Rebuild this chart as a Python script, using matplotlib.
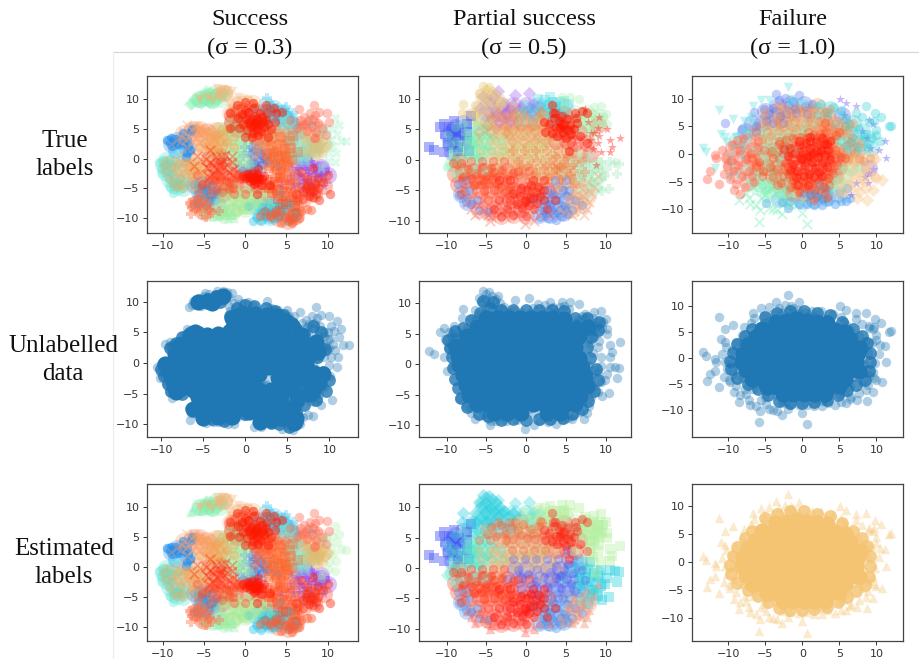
import matplotlib
matplotlib.use("Agg")
import matplotlib.pyplot as plt
from matplotlib.lines import Line2D

# --- sigma 0.3 points, grouped by blob
S_TOP_GREEN = [(-6.7,9.2),(-6.2,10.1),(-5.8,9.6),(-5.5,10.6),(-5.1,9.9),(-4.9,10.9),(-4.6,10.2),(-4.3,11.2),(-4.1,10.4),(-3.9,9.7),(-5.3,9.3),(-3.6,10.9),(-4.4,9.5),(-6.4,9.4),(-3.3,10.3),(-4.8,11.4)]
S_TOP_SAND = [(-3.4,11.8),(-3.0,11.3),(-2.7,11.7),(-2.4,11.2),(-2.9,10.7),(-2.2,11.6),(-1.6,11.4),(-2.5,10.3),(-3.2,11.0),(-2.0,10.8),(-1.4,9.8),(-0.9,10.4),(-1.1,8.9),(-2.0,9.3),(-0.4,9.8),(0.3,9.9),(0.9,9.3),(-1.8,8.5),(-0.3,8.9)]
S_RED_TOP = [(-0.9,6.8),(-0.4,7.5),(-0.2,5.9),(0.1,6.7),(0.2,4.9),(0.4,7.9),(0.5,6.0),(0.7,5.3),(0.9,6.7),(1.0,4.3),(1.1,5.8),(1.2,7.2),(1.3,6.2),(1.4,5.0),(1.5,6.6),(1.7,5.6),(1.8,7.7),(1.9,4.6),(2.0,6.1),(2.1,7.0),(2.3,5.3),(2.5,6.5),(0.8,3.7),(2.7,7.6),(1.6,3.9),(-0.7,5.1),(0.0,8.2),(1.1,8.5),(2.8,5.8),(0.6,6.4),(1.0,5.5),(1.5,5.9)]
S_CORAL_RIGHT = [(6.5,8.4),(6.7,6.5),(6.9,5.6),(7.2,7.0),(7.5,4.7),(7.6,6.3),(7.9,7.6),(8.1,5.5),(8.3,6.6),(8.4,9.1),(8.6,4.5),(8.9,6.0),(9.0,7.9),(9.3,5.1),(9.9,7.7),(6.3,5.2),(7.3,5.9),(8.5,7.3),(10.2,6.1),(9.8,3.9)]
S_BLUE_LEFT = [(-9.5,3.1),(-9.1,2.6),(-9.0,3.4),(-8.8,2.9),(-8.5,3.3),(-8.3,2.4),(-8.9,2.2),(-8.0,3.0),(-7.4,2.6),(-6.9,2.2),(-7.1,0.9),(-6.7,1.4)]
S_SALMON = [(-7.4,4.4),(-7.0,5.6),(-6.8,3.7),(-6.5,4.9),(-6.2,5.3),(-6.0,3.4),(-5.8,4.4),(-5.5,5.2),(-5.2,3.9),(-4.9,4.7),(-7.2,3.1),(-6.4,2.9),(-5.6,2.7),(-7.6,3.6)]
S_SAND_UP = [(-4.6,2.1),(-4.3,3.5),(-4.0,1.2),(-3.8,2.6),(-3.5,3.9),(-3.3,1.8),(-3.0,3.0),(-2.7,2.2),(-2.5,3.6),(-4.1,3.0),(-3.6,1.5),(-5.0,2.6),(-2.9,1.2),(-3.2,4.3),(-2.2,2.8),(-4.4,1.6),(-3.7,3.3)]
S_GREEN_MID = [(-2.1,4.3),(-1.8,1.8),(-1.5,3.2),(-1.2,2.4),(-0.9,4.6),(-0.6,3.0),(-0.3,1.4),(0.1,2.5),(0.4,3.7),(-1.4,1.0),(-0.2,0.4),(-0.8,-0.4),(-0.4,-1.1),(-1.0,0.2),(0.5,-0.5),(-2.3,0.6),(-0.1,4.4)]
S_CYAN_LEFT = [(-10.5,-0.6),(-10.2,-1.5),(-10.0,-0.2),(-10.1,-2.4),(-9.7,-0.9),(-9.5,-2.0),(-9.2,-0.3),(-9.4,-3.2),(-9.0,-1.3),(-8.8,-4.1),(-8.7,-5.8),(-9.1,-4.8),(-8.5,-4.6),(-8.1,-4.2),(-7.6,-4.5),(-7.9,-3.4),(-8.9,-2.6),(-8.3,-0.6)]
S_SAND_LEFT = [(-8.6,-1.4),(-8.2,-2.2),(-8.0,-0.7),(-7.8,-3.0),(-7.5,-1.5),(-7.3,-2.5),(-7.0,-0.4),(-6.8,-1.9),(-6.6,-3.3),(-6.4,-0.9),(-6.1,-2.1),(-5.9,-1.2),(-5.6,-0.4),(-5.4,-2.6),(-5.0,-1.6),(-4.8,-2.4),(-6.9,-1.1),(-6.3,-1.6),(-5.7,-1.9),(-7.4,-0.8),(-6.6,-2.5),(-5.2,-0.8)]
S_RED_X = [(-4.7,0.0),(-4.5,-1.6),(-4.2,-0.5),(-4.0,-2.6),(-3.8,-1.2),(-3.5,0.3),(-3.3,-1.9),(-3.1,-0.6),(-2.9,-2.7),(-2.7,-0.2),(-2.6,-1.4),(-2.4,0.6),(-2.2,-1.0),(-2.0,-2.2),(-1.6,-0.6),(-1.4,-1.8),(-2.9,0.5),(-3.0,-1.1),(-2.8,-0.6)]
S_RED_LOW = [(-4.4,-3.3),(-4.1,-4.6),(-3.8,-3.6),(-3.5,-5.2),(-3.2,-4.0),(-2.9,-3.1),(-2.6,-4.6),(-2.3,-3.7),(-2.0,-5.1),(-1.7,-3.0),(-1.4,-4.2),(-1.1,-3.3),(-0.8,-2.8),(-0.5,-3.2),(-1.5,-5.0),(-3.6,-2.7),(-2.8,-5.6),(-1.9,-3.9)]
S_RED_CORE = [(-0.3,-2.9),(0.1,-3.3),(0.4,-2.6),(0.6,-3.7),(0.9,-3.1),(1.1,-4.2),(1.2,-3.3),(1.4,-2.5),(1.5,-3.9),(1.7,-3.2),(1.9,-4.5),(2.1,-3.5),(2.3,-2.9),(0.9,-2.4),(1.0,-3.6),(1.6,-3.5),(0.5,-3.1),(1.3,-3.0)]
S_LIME_LOW = [(-3.1,-6.6),(-2.6,-7.8),(-2.2,-6.2),(-1.9,-8.4),(-1.5,-7.0),(-1.1,-6.0),(-0.8,-7.7),(-0.4,-5.6),(0.0,-6.8),(0.4,-7.8),(0.7,-5.4),(1.1,-6.4),(1.5,-7.2),(1.9,-5.8),(-2.3,-5.4),(-0.2,-8.6),(-1.0,-8.9),(0.6,-6.6),(-0.6,-6.4),(2.4,-6.6)]
S_BLUE_LOW = [(-5.6,-5.9),(-5.0,-6.5),(-4.7,-5.3),(-4.4,-6.2),(-3.9,-5.9),(-5.2,-5.0),(-3.7,-6.9),(-4.2,-7.2),(-3.3,-5.6)]
S_ORANGE_PLUS = [(-6.7,-7.4),(-6.5,-8.2),(-6.6,-9.3),(-6.1,-7.3),(-5.9,-8.4),(-5.6,-7.6),(-5.4,-8.8),(-5.1,-7.1),(-4.8,-8.0),(-4.5,-7.4),(-4.3,-8.6),(-4.7,-9.8),(-5.8,-7.0)]
S_GREEN_TRI = [(-3.9,-9.6),(-3.6,-8.9),(-3.3,-9.7),(-3.0,-9.0),(-2.7,-9.5),(-2.4,-8.8),(-2.1,-9.9),(-1.7,-9.4),(-1.4,-10.0),(-3.2,-8.3),(-2.5,-9.0)]
S_ORANGE_SQ = [(2.7,0.8),(3.0,-0.7),(3.2,2.1),(3.4,0.2),(3.7,-1.3),(3.9,1.3),(4.1,-0.2),(4.3,2.5),(4.5,0.6),(4.7,-1.1),(4.9,1.7),(5.1,-0.5),(5.3,0.9),(5.5,2.9),(5.7,-0.2),(3.5,1.0),(4.4,-0.9),(5.0,0.3),(2.9,-1.6),(5.3,-1.4),(4.0,0.5),(4.8,0.1)]
S_ORANGE_UP = [(1.2,2.9),(1.6,1.3),(2.0,3.6),(2.3,2.1),(2.6,4.5),(2.9,3.1),(3.2,4.1),(3.5,3.6),(3.9,4.6),(4.4,3.4),(1.8,2.6),(2.8,5.0),(2.4,3.0),(4.9,4.4),(3.1,2.7)]
S_BLUE_MID = [(0.6,0.9),(0.9,-0.7),(1.2,0.3),(1.4,-1.6),(1.7,-0.4),(1.9,0.8),(2.2,-0.9),(0.4,-1.9),(1.1,-1.1),(2.4,0.1),(0.7,1.9),(-0.2,-2.0),(1.5,1.6)]
S_CYAN_TOP = [(2.6,10.2),(2.2,8.3),(2.9,7.7),(3.3,8.9),(3.6,7.0),(3.9,8.6),(4.2,6.2),(4.6,7.3),(5.0,8.7),(5.2,7.6),(5.6,6.7),(3.0,9.0),(4.7,8.2),(5.8,7.6),(3.4,6.5),(2.5,6.5),(6.0,6.0)]
S_LIGHT_RIGHT = [(5.4,5.2),(5.8,4.0),(6.1,3.2),(5.6,2.9),(6.4,2.2),(6.0,1.3),(6.6,0.7),(7.0,1.5),(6.2,0.1),(7.3,0.5),(5.5,1.0),(6.7,3.4),(7.5,2.7)]
S_SAND_RIGHT = [(7.6,1.8),(7.9,3.0),(8.1,1.1),(8.4,2.5),(8.7,3.4),(8.9,1.6),(9.1,2.6),(9.3,0.9),(9.5,3.0),(9.7,1.9),(8.6,0.7),(10.0,2.4),(9.0,2.0),(8.3,1.8),(7.4,3.6)]
S_GREEN_RIGHT = [(9.8,5.0),(10.1,4.0),(10.4,3.1),(10.6,5.2),(10.9,6.9),(11.1,4.2),(11.4,5.6),(11.6,3.0),(12.3,2.9),(10.7,2.1),(10.2,0.9),(11.0,1.0),(10.9,-0.6),(10.0,-0.4),(9.4,4.4)]
S_PURPLE = [(6.3,-1.5),(6.7,-2.8),(7.0,-0.8),(7.2,-3.6),(7.5,-1.9),(7.8,-2.6),(8.1,-1.2),(8.3,-2.0),(8.6,-3.1),(8.9,-1.5),(9.2,-2.4),(9.6,-1.7),(10.1,-2.2),(8.0,-0.4),(6.5,-4.2),(7.1,-5.0),(9.0,-3.0),(8.4,-1.0)]
S_RED_RIGHT = [(7.0,-5.5),(7.4,-4.6),(7.7,-6.2),(8.0,-4.8),(8.3,-5.4),(8.5,-4.2),(8.8,-5.0),(7.9,-5.6),(9.4,-3.9),(8.2,-6.4),(10.3,-6.0),(9.0,-6.9),(7.5,-3.4),(8.6,-5.9)]
S_RED_CENTER = [(2.6,-3.6),(3.0,-4.4),(3.3,-5.8),(3.6,-4.0),(3.9,-5.2),(4.2,-3.3),(4.5,-6.2),(4.8,-4.5),(5.1,-5.6),(5.4,-3.6),(5.7,-6.4),(6.0,-4.8),(6.3,-7.0),(4.0,-6.8),(2.9,-5.0),(5.0,-7.3)]
S_CYAN_LOW = [(1.0,-10.4),(1.5,-9.8),(1.9,-10.5),(2.2,-8.9),(2.5,-9.7),(2.8,-8.1),(3.2,-9.0),(3.5,-7.8),(3.8,-8.5),(4.1,-8.0),(4.4,-9.4),(4.7,-8.5),(2.0,-8.0),(3.0,-7.3),(4.9,-7.6),(3.4,-10.0)]
S_CORAL_LOW = [(4.3,-10.8),(5.0,-9.8),(5.3,-10.4),(5.5,-9.4),(5.7,-10.9),(5.9,-9.9),(6.2,-9.0),(6.5,-10.0),(6.8,-8.8),(7.5,-8.5),(8.0,-8.6),(3.6,-9.1),(4.0,-9.6),(5.5,-10.1),(4.4,-8.8)]

S_GROUPS = {
    "cyan_left": S_CYAN_LEFT, "blue_left": S_BLUE_LEFT, "blue_low": S_BLUE_LOW, "blue_mid": S_BLUE_MID,
    "purple": S_PURPLE, "cyan_top": S_CYAN_TOP, "cyan_low": S_CYAN_LOW, "light_right": S_LIGHT_RIGHT,
    "green_right": S_GREEN_RIGHT, "top_green": S_TOP_GREEN, "green_tri": S_GREEN_TRI, "green_mid": S_GREEN_MID,
    "lime_low": S_LIME_LOW, "sand_right": S_SAND_RIGHT, "top_sand": S_TOP_SAND, "sand_left": S_SAND_LEFT,
    "sand_up": S_SAND_UP, "salmon": S_SALMON, "orange_plus": S_ORANGE_PLUS, "orange_up": S_ORANGE_UP,
    "orange_sq": S_ORANGE_SQ, "coral_right": S_CORAL_RIGHT, "coral_low": S_CORAL_LOW, "red_center": S_RED_CENTER,
    "red_low": S_RED_LOW, "red_x": S_RED_X, "red_right": S_RED_RIGHT, "red_top": S_RED_TOP, "red_core": S_RED_CORE,
}
S_CORE = [(-0.2,8.0),(1.2,8.0),(2.6,7.8),(-0.6,6.5),(0.8,6.4),(2.2,6.4),(3.6,6.2),(-1.0,5.0),(0.4,5.0),(1.8,5.0),(3.2,5.0),(4.6,5.0),(-5.6,3.6),(-7.0,3.2),(-4.2,2.8),(-2.8,3.4),(-1.4,3.6),(0.0,3.6),(1.4,3.6),(2.8,3.6),(4.2,3.6),(5.4,3.2),(-8.4,1.4),(-7.0,1.8),(-5.6,2.0),(-4.2,1.4),(-2.8,2.0),(-1.4,2.0),(0.0,2.0),(1.4,2.0),(2.8,2.0),(4.2,2.0),(5.6,1.8),(-8.6,-0.2),(-7.2,0.2),(-5.8,0.4),(-4.4,0.0),(-3.0,0.4),(-1.6,0.4),(-0.2,0.4),(1.2,0.4),(2.6,0.4),(4.0,0.4),(5.4,0.2),(6.4,-0.6),(-9.0,-1.6),(-7.6,-1.4),(-6.2,-1.2),(-4.8,-1.4),(-3.4,-1.2),(-2.0,-1.2),(-0.6,-1.2),(0.8,-1.2),(4.0,-1.2),(5.4,-1.4),(6.8,-2.2),(-8.6,-3.0),(-7.2,-3.0),(-5.8,-2.8),(-4.4,-3.0),(-3.0,-2.8),(-1.6,-2.8),(-0.2,-2.8),(1.0,-2.8),(4.6,-2.8),(6.0,-3.0),(7.6,-3.6),(8.8,-3.2),(-7.8,-4.2),(-4.0,-4.4),(-2.6,-4.4),(-1.2,-4.4),(0.2,-4.4),(1.6,-4.4),(3.0,-4.4),(4.4,-4.4),(5.8,-4.6),(7.4,-5.0),(-2.8,-6.0),(-1.4,-6.0),(0.0,-6.0),(1.4,-6.0),(2.8,-6.0),(4.2,-5.8),(-3.4,-7.4),(-2.0,-7.2),(-0.6,-7.4),(-4.8,-7.8),(-3.2,-8.8),(3.8,-8.6),(4.4,-9.0),(5.8,-9.8),
          (-6.2,-4.4),(-5.2,-4.2),(6.4,1.2),(7.4,1.0),(8.6,1.8),(7.2,3.0),(8.4,3.4),(6.6,4.6),(5.6,6.0),(4.8,6.8),(9.2,-1.8),(8.2,-1.6),(7.2,-0.2),(1.6,-1.8),(3.9,-2.4),(2.8,-0.6),(-4.2,-6.0),(-5.6,-5.6),(-1.6,-8.8),(0.4,-8.0),(1.8,-7.6),(3.0,-7.6),(4.6,-7.6),(5.6,-7.4),(6.2,-6.0),(8.0,-4.5),(-6.2,-7.6),(-5.0,-9.0),(-3.2,4.8),(-4.6,4.6),(-6.0,5.0),(-7.8,3.0),(-6.6,4.6),(-8.2,-4.8),(-9.6,-0.2),(-1.6,7.4),(-1.8,5.2),(-0.8,7.9),(3.8,7.6),(4.8,6.4),(-4.6,10.2),(-3.4,10.6),(-2.6,11.0),(-5.6,10.0),(-4.0,9.8),(6.0,-9.0),(3.0,-9.4),(1.8,-9.6)]
S_EDGE = [(-5.5,10.0),(-4.5,10.5),(-3.5,11.0),(-2.5,11.0),(-4.0,9.8),(-3.0,10.0),(-1.0,9.0),(0.0,9.5),(1.0,9.3),(2.5,9.0),(3.5,8.5),(-1.8,7.6),(-1.6,6.2),(4.5,7.8),(5.5,6.5),(6.0,5.5),(5.8,3.8),(-9.0,2.5),(-8.2,3.2),(-7.5,4.3),(-6.5,5.0),(-5.5,5.0),(-4.5,4.4),(-3.5,4.8),(-2.2,5.0),(-10.0,-1.0),(-9.7,-2.2),(-9.2,-3.4),(-8.8,-4.5),(-7.5,-5.0),(-6.2,-4.3),(-5.2,-4.5),(-5.4,-6.3),(-5.8,-7.5),(-5.2,-8.8),(-4.0,-9.2),(-2.5,-9.5),(-1.5,-8.8),(0.0,-8.4),(1.2,-8.0),(2.4,-8.8),(3.0,-9.8),(4.0,-10.0),(5.2,-10.4),(6.2,-9.6),(6.0,-8.0),(7.0,-6.8),(8.4,-6.0),(9.6,-4.6),(10.0,-2.8),(9.2,-1.4),(7.5,2.0),(8.5,3.5),(9.0,5.0),(8.0,6.0),(7.0,4.8),(9.5,2.3),(8.5,1.0),(7.4,-0.6)]

# --- sigma 0.5 points
P_TOP_SAND = [(-5.4,12.0),(-5.1,11.6),(-4.7,11.9),(-6.0,10.9),(-5.7,10.2),(-5.0,10.7),(-4.3,11.3),(-3.8,10.8),(-3.3,10.1),(-4.6,9.9),(-5.2,9.2),(-4.0,9.3),(-8.0,9.1),(-8.1,7.6),(-6.4,9.0),(-5.7,8.2),(-4.5,8.0),(-3.5,8.6),(-7.0,7.4),(-6.3,7.5),(-2.8,9.4)]
P_PURPLE_TOP = [(-3.6,11.2),(-1.4,10.6),(0.3,10.9),(-2.9,9.0),(-2.2,8.5),(-1.6,9.0),(-0.7,8.6),(0.5,8.4),(0.9,9.2),(-2.6,7.5),(-3.9,7.9),(-4.8,7.7)]
P_CYAN_TOP = [(1.5,9.9),(2.4,9.8),(3.0,10.2),(3.4,9.4),(1.9,8.6),(2.7,8.9),(3.8,8.6),(4.3,9.4),(4.8,9.6),(1.0,8.0),(2.2,7.7),(3.3,7.7),(4.5,8.0),(5.4,9.1),(0.1,7.8)]
P_BLUE_LEFT = [(-12.2,2.1),(-11.6,1.6),(-10.8,5.3),(-10.3,5.9),(-9.7,5.3),(-9.1,6.3),(-10.2,4.2),(-9.5,4.7),(-8.9,4.3),(-8.5,5.0),(-9.3,3.8),(-8.8,3.2),(-8.3,3.9),(-9.9,2.7),(-9.3,2.4),(-10.4,1.2),(-8.6,2.0),(-7.5,5.9),(-9.4,5.1),(-9.0,4.7),(-8.7,4.1)]
P_GREEN_LEFT = [(-8.3,1.6),(-7.9,2.6),(-7.6,0.9),(-7.3,3.4),(-7.0,2.0),(-6.7,4.2),(-6.4,1.0),(-6.1,2.8),(-5.8,3.7),(-5.5,1.6),(-5.2,4.8),(-7.2,1.2),(-6.6,2.6),(-5.9,0.5),(-6.2,5.6),(-7.7,4.5),(-4.9,2.2),(-9.2,-0.2),(-10.0,-1.2),(-4.6,3.5),(-6.9,3.0)]
P_SAND_MID = [(-4.3,1.5),(-3.9,3.2),(-3.4,0.6),(-3.0,2.4),(-2.6,4.1),(-2.2,1.2),(-1.8,3.0),(-1.3,0.4),(-0.9,2.2),(-0.5,3.9),(-0.1,1.0),(0.4,2.6),(0.8,0.2),(1.2,3.4),(1.6,1.5),(2.0,0.0),(2.4,2.3),(2.8,3.6),(3.2,1.0),(1.0,1.6),(0.0,2.0),(-1.5,1.7),(-2.8,1.4),(1.9,2.8)]
P_ORANGE_TOP = [(-4.4,6.8),(-3.8,5.2),(-3.2,7.0),(-2.7,5.6),(-2.1,6.6),(-1.6,4.8),(-1.0,6.2),(-0.4,7.3),(0.1,5.0),(0.6,6.4),(1.1,4.7),(1.6,6.9),(2.1,5.5),(2.6,4.5),(-0.7,5.4),(0.9,5.7),(-2.5,4.6),(-4.9,5.6),(1.7,7.8),(-1.4,7.6)]
P_RED_TOPRIGHT = [(2.9,5.8),(3.2,4.4),(3.5,6.9),(3.7,5.3),(3.9,3.9),(4.1,6.3),(4.3,5.2),(4.5,7.1),(4.6,4.5),(4.8,5.9),(5.0,3.6),(5.1,6.6),(5.3,4.8),(5.5,5.6),(5.7,4.2),(6.0,5.1),(4.4,5.8),(4.9,5.0),(3.6,7.6),(6.3,6.8),(7.0,8.0),(6.8,3.9)]
P_RIGHT_TOP = [(6.5,7.2),(7.0,6.2),(7.4,7.6),(7.8,6.8),(8.3,5.5),(8.6,8.6),(9.4,8.8),(9.0,7.1),(9.7,7.0),(10.2,5.8),(8.9,6.3),(8.0,4.5),(6.5,5.6),(9.5,5.9),(8.4,7.6),(10.1,7.5),(7.6,5.4),(6.6,9.9),(5.5,10.3),(4.5,10.3)]
P_RED_STARS = [(8.5,4.4),(9.2,3.8),(10.2,5.0),(10.5,3.2),(11.8,3.6),(10.8,2.0),(10.6,1.2),(9.0,2.8),(8.4,1.8),(9.4,1.2),(8.0,3.3),(9.0,5.2),(7.4,8.3)]
P_RIGHT_MID = [(6.8,-0.6),(7.4,-1.6),(7.8,-0.2),(8.2,-2.3),(8.6,-0.9),(9.0,-1.4),(9.4,-3.0),(9.9,-2.6),(10.5,-0.4),(11.2,-0.5),(11.7,-0.7),(11.4,-2.3),(10.4,-4.8),(9.6,-5.2),(9.0,-4.6),(8.4,-3.6),(7.2,-3.0),(6.6,-2.0),(10.2,-1.6),(9.4,-0.3),(8.0,-4.3)]
P_RED_LEFT = [(-7.3,-1.5),(-7.0,-3.0),(-6.6,-4.1),(-6.3,-2.2),(-5.9,-3.3),(-5.6,-1.2),(-5.3,-5.1),(-5.0,-2.6),(-4.7,-3.8),(-4.4,-1.4),(-4.1,-4.9),(-3.8,-2.9),(-3.5,-3.8),(-3.1,-1.7),(-2.8,-5.3),(-2.4,-3.1),(-2.0,-4.4),(-1.6,-2.2),(-4.9,-3.2),(-5.7,-4.0),(-4.0,-2.0),(-8.2,-0.6),(-8.0,-2.8),(-3.2,-4.4)]
P_RED_BOTTOM = [(-1.2,-7.3),(-0.8,-6.0),(-0.5,-7.9),(-0.2,-6.6),(0.1,-5.0),(0.3,-7.4),(0.6,-4.2),(0.8,-6.3),(1.0,-8.0),(1.2,-5.3),(1.5,-4.4),(1.8,-6.0),(0.0,-7.0),(0.5,-6.2),(-1.7,-5.5),(-0.6,-4.6),(2.2,-4.9),(1.3,-7.1),(-2.1,-6.6)]
P_ORANGE_RIGHT = [(2.2,-1.5),(2.6,-3.1),(3.0,-0.6),(3.4,-2.2),(3.8,0.4),(4.1,-1.2),(4.4,-3.3),(4.7,-0.3),(5.0,-1.8),(5.3,0.6),(5.6,-2.7),(5.9,-0.8),(6.2,-3.8),(4.4,-1.4),(3.7,-1.6),(1.2,-2.2),(0.2,-1.0),(-0.7,-1.7),(0.8,-3.3),(-1.0,-0.4)]
P_BLUE_BOTTOM = [(-8.5,-5.8),(-7.6,-6.9),(-7.0,-7.3),(1.8,-9.3),(2.3,-8.2),(2.7,-9.6),(3.0,-7.3),(3.4,-8.7),(3.8,-6.6),(4.2,-8.3),(4.5,-9.2),(4.9,-7.5),(5.3,-8.9),(2.2,-6.6),(3.4,-5.6),(4.6,-5.0),(5.1,-6.0),(3.7,-9.8)]
P_CORAL_BOTTOM = [(-7.0,-8.0),(-6.5,-9.0),(-6.0,-7.4),(-5.4,-8.3),(-4.8,-9.0),(-4.2,-8.0),(-3.8,-9.3),(-3.5,-7.2),(-3.0,-8.5),(-2.6,-9.3),(-4.6,-10.0),(-2.2,-7.7),(-4.4,-9.4),(-1.2,-9.2),(-5.4,-6.6),(-0.1,-10.6),(1.0,-10.0),(-2.6,-6.0)]
P_ORANGE_LOW = [(6.0,-5.0),(6.4,-6.4),(6.8,-7.8),(7.2,-6.0),(7.6,-8.0),(7.9,-6.9),(6.0,-8.4),(5.8,-9.0),(7.3,-9.0),(7.0,-4.8),(5.5,-6.2),(8.1,-5.4)]

P_GROUPS = {
    "blue_left": P_BLUE_LEFT, "blue_bottom": P_BLUE_BOTTOM, "purple_top": P_PURPLE_TOP, "cyan_top": P_CYAN_TOP,
    "right_mid": P_RIGHT_MID, "right_top": P_RIGHT_TOP, "green_left": P_GREEN_LEFT, "top_sand": P_TOP_SAND,
    "sand_mid": P_SAND_MID, "orange_top": P_ORANGE_TOP, "orange_low": P_ORANGE_LOW, "orange_right": P_ORANGE_RIGHT,
    "coral_bottom": P_CORAL_BOTTOM, "red_stars": P_RED_STARS, "red_left": P_RED_LEFT, "red_bottom": P_RED_BOTTOM,
    "red_topright": P_RED_TOPRIGHT,
}
P_CORE = [(-5.0,7.6),(-3.6,7.6),(-2.2,7.6),(-0.8,7.6),(0.6,7.6),(2.0,7.6),(3.4,7.6),(4.8,7.4),(-6.2,6.2),(-4.8,6.2),(-3.4,6.2),(-2.0,6.2),(-0.6,6.2),(0.8,6.2),(2.2,6.2),(3.6,6.2),(5.0,6.2),(6.4,6.0),(7.8,6.2),(-7.4,4.6),(-6.0,4.6),(-4.6,4.6),(-3.2,4.6),(-1.8,4.6),(-0.4,4.6),(1.0,4.6),(2.4,4.6),(3.8,4.6),(5.2,4.6),(6.6,4.6),(-8.8,3.0),(-7.4,3.0),(-6.0,3.0),(-4.6,3.0),(-3.2,3.0),(-1.8,3.0),(-0.4,3.0),(1.0,3.0),(2.4,3.0),(3.8,3.0),(5.2,3.0),(6.2,2.8),(-8.6,1.4),(-7.2,1.4),(-5.8,1.4),(-4.4,1.4),(-3.0,1.4),(-1.6,1.4),(-0.2,1.4),(1.2,1.4),(2.6,1.4),(4.0,1.4),(5.4,1.4),(6.6,1.0),(-8.4,-0.2),(-7.0,-0.2),(-5.6,-0.2),(-4.2,-0.2),(-2.8,-0.2),(-1.4,-0.2),(0.0,-0.2),(1.4,-0.2),(2.8,-0.2),(4.2,-0.2),(5.6,-0.2),(7.0,-0.4),(-8.0,-1.8),(-6.6,-1.8),(-5.2,-1.8),(-3.8,-1.8),(-2.4,-1.8),(-1.0,-1.8),(0.4,-1.8),(1.8,-1.8),(3.2,-1.8),(4.6,-1.8),(6.0,-1.8),(7.4,-2.0),(-7.6,-3.4),(-6.2,-3.4),(-4.8,-3.4),(-3.4,-3.4),(-2.0,-3.4),(-0.6,-3.4),(0.8,-3.4),(2.2,-3.4),(3.6,-3.4),(5.0,-3.4),(6.4,-3.4),(7.6,-3.6),(-7.2,-5.0),(-5.8,-5.0),(-4.4,-5.0),(-3.0,-5.0),(-1.6,-5.0),(-0.2,-5.0),(1.2,-5.0),(2.6,-5.0),(4.0,-5.0),(5.4,-5.0),(6.8,-5.2),(-6.2,-6.6),(-4.8,-6.6),(-3.4,-6.6),(-2.0,-6.6),(-0.6,-6.6),(0.8,-6.6),(2.2,-6.6),(3.6,-6.6),(5.0,-6.6),(6.2,-6.6),(-4.0,-8.0),(-2.4,-8.0),(-0.6,-8.0),(2.6,-8.0),(4.2,-8.0)]
P_EDGE = [(-9.8,4.0),(-9.6,2.6),(-9.4,1.2),(-9.2,-0.6),(-9.0,-2.4),(-8.6,-4.0),(-8.2,-5.6),(-7.4,-7.0),(-6.0,-8.2),(-4.8,-8.6),(-3.2,-9.2),(-1.6,-9.0),(0.0,-9.2),(1.6,-9.0),(3.0,-9.0),(4.6,-8.8),(5.8,-8.2),(7.0,-7.4),(7.8,-6.0),(8.6,-4.4),(9.0,-2.6),(8.8,-0.8),(8.0,1.0),(7.6,2.8),(8.2,4.4),(9.0,5.6),(9.2,7.0),(7.6,7.6),(6.2,7.6),(4.8,8.8),(3.2,9.0),(1.6,9.0),(0.0,9.0),(-1.6,9.0),(-3.2,9.0),(-4.6,9.2),(-5.8,8.4),(-7.0,7.2),(-8.0,6.0),(-9.0,5.4),(-5.4,10.4),(-4.2,10.2)]

# --- sigma 1.0 points
F_BLUE_TOP = [(-3.6,10.8),(-3.2,9.7),(-2.4,10.2),(-1.3,9.6),(-0.5,10.7),(-2.0,8.9),(-3.9,8.4),(-5.2,8.1),(-4.5,7.2),(-6.3,5.0),(-8.2,4.5),(-10.4,5.6),(-6.5,7.6),(-4.9,6.0),(-3.0,6.9),(-1.0,8.2),(0.3,8.6),(1.3,9.0)]
F_CYAN_RIGHT = [(8.6,8.7),(9.8,7.4),(10.6,6.7),(11.7,5.0),(12.0,5.1),(9.9,4.4),(10.0,3.4),(9.0,5.7),(8.0,6.6),(7.2,7.4),(6.5,5.4),(7.6,4.5),(9.4,2.9),(8.4,3.3),(6.7,3.0),(5.9,6.4),(5.2,7.9),(4.2,8.5),(3.4,7.5),(7.4,1.4),(8.9,1.0),(6.0,1.7),(9.7,6.0),(2.5,9.0),(10.5,2.4)]
F_STARS = [(5.1,10.0),(5.9,9.2),(7.2,8.6),(9.0,6.1),(9.5,5.5),(11.2,2.3),(10.4,0.8),(11.3,-0.8),(9.6,-2.7),(9.0,-3.4),(8.9,-5.2),(6.6,-7.5),(5.6,7.0)]
F_MINT_LOW = [(-8.6,-8.4),(-7.2,-8.0),(-7.0,-9.0),(-6.3,-9.2),(-5.7,-10.2),(-5.8,-12.4),(-4.5,-9.8),(-3.9,-10.0),(-3.4,-10.2),(-2.7,-10.9),(-5.0,-7.5),(-3.6,-7.0),(-2.4,-8.4),(-1.6,-9.0),(-6.6,-6.0),(-0.1,-10.6),(0.7,-12.7),(-5.6,-8.0),(-4.2,-6.0),(-2.0,-6.6),(-7.6,-7.0)]
F_BLUE_LOW = [(-1.9,-9.8),(-0.4,-9.1),(0.6,-9.0),(1.6,-9.2),(2.0,-7.8),(2.7,-9.3),(3.5,-8.6),(4.4,-9.1),(5.2,-8.5),(5.9,-8.6),(6.4,-7.9),(-4.9,-8.8),(-2.7,-8.7),(3.2,-6.4),(1.0,-7.4),(4.9,-7.0),(2.6,-8.2)]
F_PEACH_RIGHT = [(7.0,-3.6),(8.0,-4.6),(8.6,-6.2),(9.7,-3.9),(10.0,-4.3),(10.7,-4.7),(9.5,-6.5),(8.8,-8.3),(7.6,-6.8),(6.4,-5.5),(6.9,-1.4),(8.3,-2.7),(9.8,-1.0),(5.6,-6.7),(7.4,-8.0)]
F_CORAL_LEFT = [(-12.9,-4.5),(-12.5,-3.0),(-11.8,-0.2),(-11.6,-0.8),(-11.3,-5.5),(-10.9,0.7),(-10.2,-2.2),(-10.6,-3.6),(-9.8,-4.6),(-9.6,-1.1),(-9.3,-3.0),(-9.5,1.6),(-9.0,-5.4),(-8.7,-2.0),(-8.4,0.8),(-8.2,-3.9),(-7.8,-6.0),(-7.6,-1.0),(-7.2,-3.0),(-6.9,0.2),(-6.5,-5.0),(-6.3,-2.0),(-6.0,1.2),(-9.2,-6.6),(-8.4,-7.2),(-10.4,-0.8),(-8.0,2.8)]
F_TRI_LEFT = [(-13.4,1.1),(-13.0,0.4),(-11.8,-2.5),(-10.4,3.1),(-10.3,2.1),(-9.3,6.4),(-7.9,5.9),(-6.6,8.7),(-9.9,-4.2),(-8.1,1.6),(-7.4,3.6),(-9.0,3.0),(-6.9,6.7),(-5.6,9.7),(-4.5,9.8),(-2.0,12.2),(-1.5,9.9),(-0.6,9.3),(-11.2,7.9),(-11.0,3.6)]
F_ORANGE_RING = [(-6.2,4.2),(-5.4,2.7),(-4.8,5.2),(-4.2,3.2),(-3.6,6.0),(-3.1,4.2),(-2.6,7.2),(-2.0,5.4),(-1.4,6.8),(-0.8,4.6),(-0.2,7.5),(0.4,5.6),(1.0,6.6),(1.6,8.1),(2.2,6.0),(2.8,5.0),(3.4,6.4),(4.0,4.8),(4.6,6.0),(5.2,3.7),(5.8,4.8),(6.4,2.2),(7.0,0.2),(7.6,-0.9),(8.3,-1.2),(-1.8,8.0),(-2.8,8.6),(-0.6,8.4),(0.6,8.0),(3.0,7.5),(-5.2,6.8),(5.5,0.4),(6.2,-1.0),(-3.0,5.4),(-1.0,5.9),(1.4,5.2)]
F_GREEN_MID = [(-5.4,0.8),(-4.9,-1.6),(-4.5,1.6),(-4.1,-3.0),(-3.7,0.4),(-3.3,-1.1),(-2.9,2.6),(-2.5,-4.4),(-2.2,1.0),(-6.0,-3.4),(-5.5,-5.4),(-4.8,-6.3),(-3.8,-5.2),(-3.0,-6.4),(-5.2,3.8),(-1.8,3.6),(0.2,4.0),(4.7,2.5),(5.8,-2.8),(6.8,-3.0),(5.0,-5.0),(3.9,-5.4)]
F_RED_MID = [(-5.8,-1.5),(-5.3,-3.1),(-4.4,-2.3),(-3.9,-4.1),(-3.4,-2.8),(-2.9,-5.2),(-2.4,-1.6),(-2.0,-3.5),(-1.6,-6.0),(-1.2,-4.6),(-0.8,-5.6),(-0.4,-6.8),(0.1,-4.9),(0.5,-6.2),(1.1,-5.3),(1.7,-6.6),(2.3,-5.0),(2.9,-6.0),(3.5,-4.4),(4.1,-3.4),(4.7,-2.0),(5.2,-0.6),(4.4,0.7),(3.9,2.6),(4.5,3.4),(3.2,3.9),(2.4,3.6),(1.5,3.4),(0.7,2.9),(-0.2,3.0),(-1.2,2.8),(-2.2,2.6),(-3.2,1.8),(-4.1,0.6)]
F_RED_CORE = [(-2.0,-0.4),(-1.6,1.1),(-1.3,-1.8),(-1.0,0.2),(-0.7,-3.0),(-0.4,1.6),(-0.2,-1.0),(0.1,0.5),(0.3,-2.2),(0.5,2.0),(0.7,-0.5),(0.9,-3.6),(1.1,1.0),(1.3,-1.4),(1.5,0.2),(1.7,-2.6),(1.9,2.2),(2.1,-0.6),(2.3,-3.2),(2.5,0.8),(2.7,-1.6),(2.9,1.8),(3.1,-0.2),(3.3,-2.4),(3.5,0.7),(3.7,-1.0),(-1.7,-2.9),(-0.9,-4.2),(0.2,-4.0),(1.6,-4.2),(2.7,-3.9),(-2.5,0.9),(1.0,3.0),(2.6,2.8),(3.4,1.8),(0.0,-1.0),(1.0,-0.4),(2.0,0.6)]

F_GROUPS = {
    "blue_top": F_BLUE_TOP, "blue_low": F_BLUE_LOW, "stars": F_STARS, "cyan_right": F_CYAN_RIGHT,
    "mint_low": F_MINT_LOW, "tri_left": F_TRI_LEFT, "green_mid": F_GREEN_MID, "peach_right": F_PEACH_RIGHT,
    "orange_ring": F_ORANGE_RING, "coral_left": F_CORAL_LEFT, "red_mid": F_RED_MID, "red_core": F_RED_CORE,
}
F_CORE = [(-3.6,7.0),(-2.2,7.2),(-0.8,7.4),(0.6,7.2),(2.0,7.0),(3.4,6.8),(-5.4,5.6),(-4.0,5.6),(-2.6,5.6),(-1.2,5.6),(0.2,5.6),(1.6,5.6),(3.0,5.6),(4.4,5.4),(5.8,5.0),(-6.2,4.0),(-4.8,4.0),(-3.4,4.0),(-2.0,4.0),(-0.6,4.0),(0.8,4.0),(2.2,4.0),(3.6,4.0),(5.0,4.0),(6.4,3.6),(-7.4,2.4),(-6.0,2.4),(-4.6,2.4),(-3.2,2.4),(-1.8,2.4),(-0.4,2.4),(1.0,2.4),(2.4,2.4),(3.8,2.4),(5.2,2.4),(6.6,2.2),(7.8,2.0),(-8.0,0.8),(-6.6,0.8),(-5.2,0.8),(-3.8,0.8),(-2.4,0.8),(-1.0,0.8),(0.4,0.8),(1.8,0.8),(3.2,0.8),(4.6,0.8),(6.0,0.8),(7.4,0.6),(-8.2,-0.8),(-6.8,-0.8),(-5.4,-0.8),(-4.0,-0.8),(-2.6,-0.8),(-1.2,-0.8),(0.2,-0.8),(1.6,-0.8),(3.0,-0.8),(4.4,-0.8),(5.8,-0.8),(7.2,-0.8),(-7.6,-2.4),(-6.2,-2.4),(-4.8,-2.4),(-3.4,-2.4),(-2.0,-2.4),(-0.6,-2.4),(0.8,-2.4),(2.2,-2.4),(3.6,-2.4),(5.0,-2.4),(6.4,-2.4),(7.6,-2.6),(-6.8,-4.0),(-5.4,-4.0),(-4.0,-4.0),(-2.6,-4.0),(-1.2,-4.0),(0.2,-4.0),(1.6,-4.0),(3.0,-4.0),(4.4,-4.0),(5.8,-4.0),(-4.8,-5.6),(-3.4,-5.6),(-2.0,-5.6),(-0.6,-5.6),(0.8,-5.6),(2.2,-5.6),(3.6,-5.6),(5.0,-5.4),(-2.6,-7.0),(-1.2,-7.0),(0.2,-7.0),(1.6,-7.0),(3.0,-7.0)]
F_EDGE = [(-5.0,7.8),(-3.4,8.6),(-1.6,9.0),(0.2,9.0),(2.0,8.6),(3.8,8.2),(5.4,7.0),(6.8,5.6),(8.0,4.2),(8.8,2.8),(9.2,1.0),(9.2,-0.8),(9.0,-2.6),(8.4,-4.2),(7.2,-5.2),(6.0,-6.2),(4.8,-7.2),(3.4,-8.0),(1.6,-8.4),(0.0,-8.6),(-1.6,-8.6),(-3.2,-8.2),(-4.6,-7.2),(-6.0,-6.0),(-7.4,-5.0),(-8.8,-3.8),(-9.6,-2.2),(-9.8,-0.6),(-9.4,1.0),(-8.8,2.6),(-7.8,4.2),(-6.8,5.6)]

CORE_COLOR = "#1f77b4"
FAIL_EST_COLOR = "#f4c472"

# colour, marker, alpha per blob
S_TRUE = {
    "cyan_left": ("#4de8d8","o",.35), "blue_left": ("#1e90f5","o",.6), "blue_low": ("#2f9be8","o",.4), "blue_mid": ("#3a78f0","P",.35),
    "purple": ("#8a3cf5","*",.4), "cyan_top": ("#3fc8ee","P",.35), "cyan_low": ("#22c4e8","o",.4), "light_right": ("#80e8d0","s",.3),
    "green_right": ("#8ff0c0","X",.3), "top_green": ("#80f0b0","D",.35), "green_tri": ("#90f0a8","^",.35), "green_mid": ("#a0eaa0","s",.3),
    "lime_low": ("#a8e890","o",.35), "sand_right": ("#dcc078","o",.35), "top_sand": ("#f4b478","v",.35), "sand_left": ("#f0a860","o",.35),
    "sand_up": ("#f4a050","o",.4), "salmon": ("#fb9c70","x",.35), "orange_plus": ("#ff6a40","P",.4), "orange_up": ("#f08a50","D",.3),
    "orange_sq": ("#ff6428","s",.35), "coral_right": ("#ff6a50","o",.4), "coral_low": ("#ff5a30","o",.45), "red_center": ("#ff4818","s",.35),
    "red_low": ("#ff4520","o",.38), "red_x": ("#ff3010","x",.4), "red_right": ("#ff2a0c","o",.45), "red_top": ("#ff1800","o",.5), "red_core": ("#ff1400","o",.5),
}
S_EST = dict(S_TRUE)
S_EST["top_green"] = ("#80f0b0","^",.35)
S_EST["orange_up"] = ("#ff6030","D",.35)
S_EST["sand_right"] = ("#e8b868","D",.35)
S_EST["green_right"] = ("#a8f0a8","o",.3)

P_TRUE = {
    "blue_left": ("#4858f8","s",.45), "blue_bottom": ("#3c7cf8","o",.35), "purple_top": ("#a060f0","D",.35), "cyan_top": ("#40d8e0","s",.3),
    "right_mid": ("#a0e8b8","P",.35), "right_top": ("#a8f0b0","o",.35), "green_left": ("#70f0b0","o",.35), "top_sand": ("#e8c878","o",.4),
    "sand_mid": ("#d8c070","o",.35), "orange_top": ("#f08848","D",.32), "orange_low": ("#f4a070","x",.4), "orange_right": ("#f07838","P",.35),
    "coral_bottom": ("#ff6050","x",.35), "red_stars": ("#ff3020","*",.45), "red_left": ("#ff3c14","o",.38), "red_bottom": ("#ff1c08","o",.45),
    "red_topright": ("#ff1400","o",.5),
}
P_EST = {
    "blue_left": ("#4858f8","s",.45), "blue_bottom": ("#3c88f0","o",.35), "purple_top": ("#40d8e0","D",.35), "cyan_top": ("#b4f0a0","s",.35),
    "right_mid": ("#28d0e0","s",.4), "right_top": ("#b4f0a0","s",.4), "green_left": ("#50e8c8","D",.35), "top_sand": ("#30d0e0","D",.4),
    "sand_mid": ("#e0b070","o",.35), "orange_top": ("#f06030","o",.35), "orange_low": ("#f49070","^",.4), "orange_right": ("#5050e8","o",.3),
    "coral_bottom": ("#ff5040","^",.35), "red_stars": ("#b4f0a0","s",.4), "red_left": ("#ff3010","o",.4), "red_bottom": ("#ff1008","o",.45),
    "red_topright": ("#ff2010","o",.4),
}
F_TRUE = {
    "blue_top": ("#5070f0","o",.35), "blue_low": ("#3898f0","o",.4), "stars": ("#7050f0","*",.4), "cyan_right": ("#30d0d8","o",.35),
    "mint_low": ("#78f0b8","x",.4), "tri_left": ("#50e0d8","v",.35), "green_mid": ("#80f0b0","o",.3), "peach_right": ("#f8c890","D",.4),
    "orange_ring": ("#ee8c50","o",.35), "coral_left": ("#ff6048","o",.4), "red_mid": ("#ff4818","o",.38), "red_core": ("#ff1400","o",.45),
}

COL_TITLES = ["Success\n(σ = 0.3)", "Partial success\n(σ = 0.5)", "Failure\n(σ = 1.0)"]
ROW_TITLES = ["True\nlabels", "Unlabelled\ndata", "Estimated\nlabels"]
TICKS = [-10, -5, 0, 5, 10]

# axes box in pixels: left, right, top, bottom, then x and y limits
W, H = 920, 659
PANELS = {
    (0, 0): (147, 358, 76, 233, (-11.9, 13.7), (-12.5, 13.9)),
    (0, 1): (419, 631, 76, 233, (-13.5, 13.2), (-12.0, 13.7)),
    (0, 2): (692, 903, 76, 233, (-14.9, 13.6), (-14.3, 14.1)),
    (1, 0): (147, 358, 281, 437, (-11.7, 13.4), (-12.1, 13.4)),
    (1, 1): (419, 631, 281, 437, (-13.5, 13.2), (-12.0, 13.7)),
    (1, 2): (692, 903, 281, 437, (-14.9, 13.6), (-15.2, 14.8)),
    (2, 0): (147, 358, 484, 641, (-11.9, 13.7), (-12.4, 13.9)),
    (2, 1): (419, 631, 484, 641, (-13.5, 13.2), (-12.0, 13.8)),
    (2, 2): (692, 903, 484, 641, (-14.9, 13.6), (-14.1, 13.9)),
}

plt.rcParams["font.family"] = ["DejaVu Sans"]
SERIF = "Liberation Serif"
SIZE = 46


def nearest_groups(pt, groups):
    # the two blobs closest to a point, nearest first
    dists = []
    for name, pts in groups.items():
        d = min((p[0] - pt[0]) ** 2 + (p[1] - pt[1]) ** 2 for p in pts)
        dists.append((d, name))
    dists.sort()
    return dists[0][1], dists[1][1]


def draw_groups(ax, groups, styles, core, edge):
    # filler points: wash in the nearest blob's colour, marker in the next one's, so blobs bleed together
    wash = {name: [] for name in groups}
    top = {name: [] for name in groups}
    for pt in core + edge:
        first, second = nearest_groups(pt, groups)
        wash[first].append(pt)
        top[second].append(pt)
    for name, pts in wash.items():
        if pts:
            ax.scatter([p[0] for p in pts], [p[1] for p in pts], s=150, c=styles[name][0], marker="o", alpha=.3, linewidths=0)
    for name, pts in groups.items():
        color, marker, alpha = styles[name]
        all_pts = pts + top[name]
        lw = 1.3 if marker == "x" else 0
        ax.scatter([p[0] for p in all_pts], [p[1] for p in all_pts], s=SIZE, c=color, marker=marker, alpha=alpha, linewidths=lw)


def draw_single(ax, groups, core, edge, color, marker="o", core_alpha=1.0):
    ax.scatter([p[0] for p in core], [p[1] for p in core], s=135, c=color, marker="o", alpha=core_alpha, linewidths=0)
    ax.scatter([p[0] for p in edge], [p[1] for p in edge], s=85, c=color, marker="o", alpha=.8, linewidths=0)
    for pts in groups.values():
        ax.scatter([p[0] for p in pts], [p[1] for p in pts], s=SIZE, c=color, marker=marker, alpha=.35, linewidths=0)


fig = plt.figure(figsize=(W / 100, H / 100), dpi=100)

axes = {}
for key, (l, r, t, b, xlim, ylim) in PANELS.items():
    ax = fig.add_axes([l / W, 1 - b / H, (r - l) / W, (b - t) / H])
    ax.set_xlim(xlim)
    ax.set_ylim(ylim)
    ax.set_xticks(TICKS)
    ax.set_yticks(TICKS)
    ax.tick_params(labelsize=8, length=3, width=.7, pad=2.5, colors="#333333")
    for sp in ax.spines.values():
        sp.set_linewidth(.9)
        sp.set_color("#444444")
    axes[key] = ax

draw_groups(axes[0, 0], S_GROUPS, S_TRUE, S_CORE, S_EDGE)
draw_groups(axes[0, 1], P_GROUPS, P_TRUE, P_CORE, P_EDGE)
draw_groups(axes[0, 2], F_GROUPS, F_TRUE, F_CORE, F_EDGE)
draw_single(axes[1, 0], S_GROUPS, S_CORE, S_EDGE, CORE_COLOR)
draw_single(axes[1, 1], P_GROUPS, P_CORE, P_EDGE, CORE_COLOR)
draw_single(axes[1, 2], F_GROUPS, F_CORE, F_EDGE, CORE_COLOR)
draw_groups(axes[2, 0], S_GROUPS, S_EST, S_CORE, S_EDGE)
draw_groups(axes[2, 1], P_GROUPS, P_EST, P_CORE, P_EDGE)
draw_single(axes[2, 2], F_GROUPS, F_CORE, F_EDGE, FAIL_EST_COLOR, marker="^")

# slide guide lines behind the headings
fig.add_artist(Line2D([113 / W, 1], [1 - 51.5 / H] * 2, color="#d4d4d4", lw=.8))
fig.add_artist(Line2D([113 / W, 113 / W], [0, 1 - 51.5 / H], color="#ececec", lw=.8))

for text, cx in zip(COL_TITLES, [250, 524, 793]):
    fig.text(cx / W, 1 - 34 / H, text, family=SERIF, fontsize=17.5, ha="center", va="center", linespacing=1.5, color="#111111")
for text, cx, cy in zip(ROW_TITLES, [65, 63, 64], [155, 360, 563]):
    fig.text(cx / W, 1 - cy / H, text, family=SERIF, fontsize=18, ha="center", va="center", linespacing=1.4, color="#111111")

fig.savefig("out.png", dpi=100)
